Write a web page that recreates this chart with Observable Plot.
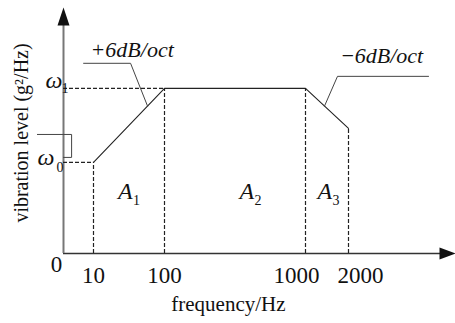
<!DOCTYPE html>
<html><head><meta charset="utf-8">
<script src="https://cdn.jsdelivr.net/npm/d3@7"></script>
<script src="https://cdn.jsdelivr.net/npm/@observablehq/plot@0.6"></script>
<style>body{margin:0;background:#fff}</style>
</head><body><div id="chart"></div>
<script>
// Breakpoints of the vibration profile (frequency in Hz, level relative to ω1)
const freqs = [10, 100, 1000, 2000];
const levels = [0.552, 1, 1, 0.758];
// Tick labels on the frequency axis
const tickValues = [0, 10, 100, 1000, 2000];
const tickLabels = ["0", "10", "100", "1000", "2000"];
// Level labels on the vertical axis
const levelNames = ["ω", "ω"];
const levelSubs = ["0", "1"];
const levelValues = [0.552, 1];
// Area labels
const areaNames = ["A", "A", "A"];
const areaSubs = ["1", "2", "3"];
const areaFreqs = [41, 579, 1279];
const areaLevel = 0.333;
// Slope annotations
const slopeTexts = ["+6dB/oct", "\u22126dB/oct"];
const leaderUpF = [6.7, 57, 78.5];
const leaderUpV = [1.152, 1.152, 0.893];
const leaderDownF = [3870, 1744, 1442];
const leaderDownV = [1.073, 1.073, 0.893];
const bracketF = [-8.7, 2.7, 2.7, 0];
const bracketV = [0.721, 0.721, 0.582, 0.582];
// Axis extents
const xAxisEnd = 4500;
const yAxisTop = 1.49;
const xTitle = "frequency/Hz";
const yTitle = "vibration level (g\u00B2/Hz)";

const profile = freqs.map((f, i) => ({f, v: levels[i]}));
const zip = (F, V) => F.map((f, i) => ({f, v: V[i]}));
const ticks = tickValues.map((t, i) => ({t, label: tickLabels[i]}));

const upHead = {draw(ctx) { ctx.moveTo(0, 0); ctx.lineTo(6, 18); ctx.lineTo(-6, 18); ctx.closePath(); }};
const rightHead = {draw(ctx) { ctx.moveTo(0, 0); ctx.lineTo(-16, -6); ctx.lineTo(-16, 6); ctx.closePath(); }};

const font = "Liberation Serif, Times New Roman, serif";
const dash = "4,2";
const ital = {fontFamily: font, fontStyle: "italic", fill: "#111"};

const chart = Plot.plot({
  width: 455,
  height: 323,
  margin: 0,
  x: {type: "linear", domain: [0, 10, 100, 1000, 2000, 4500], range: [63, 93, 164, 305, 348, 455], axis: null},
  y: {domain: [0, 1.49], range: [253, 7], axis: null},
  style: {fontFamily: font, background: "white", color: "#111"},
  marks: [
    // axes
    Plot.ruleY([0], {x1: 0, x2: xAxisEnd * 0.95, stroke: "#333", strokeWidth: 1.5}),
    Plot.ruleX([0], {y1: 0, y2: yAxisTop * 0.95, stroke: "#777", strokeWidth: 2}),
    Plot.dot([{f: 0, v: yAxisTop}], {x: "f", y: "v", symbol: upHead, fill: "#111", stroke: "none"}),
    Plot.dot([{f: xAxisEnd, v: 0}], {x: "f", y: "v", symbol: rightHead, fill: "#111", stroke: "none"}),
    // dashed guides
    Plot.ruleX(profile, {x: "f", y1: 0, y2: "v", stroke: "#222", strokeWidth: 1.2, strokeDasharray: dash}),
    Plot.ruleY(profile.slice(0, 2), {y: "v", x1: 0, x2: "f", stroke: "#222", strokeWidth: 1.2, strokeDasharray: dash}),
    // profile
    Plot.line(profile, {x: "f", y: "v", stroke: "#222", strokeWidth: 1.1}),
    // leaders & bracket
    Plot.line(zip(leaderUpF, leaderUpV), {x: "f", y: "v", stroke: "#444", strokeWidth: 1}),
    Plot.line(zip(leaderDownF, leaderDownV), {x: "f", y: "v", stroke: "#444", strokeWidth: 1}),
    Plot.line(zip(bracketF, bracketV), {x: "f", y: "v", stroke: "#444", strokeWidth: 1}),
    // slope texts
    Plot.text([{f: 9, v: 1.188, s: slopeTexts[0]}], {x: "f", y: "v", text: "s", textAnchor: "start", lineAnchor: "bottom", fontSize: 22, ...ital}),
    Plot.text([{f: 1800, v: 1.152, s: slopeTexts[1]}], {x: "f", y: "v", text: "s", textAnchor: "start", lineAnchor: "bottom", fontSize: 22, ...ital}),
    // level labels
    Plot.text([{v: levelValues[0], s: levelNames[0]}], {x: 0, y: "v", text: "s", textAnchor: "start", lineAnchor: "bottom", dx: -26, dy: 3, fontSize: 24, ...ital}),
    Plot.text([{v: levelValues[1], s: levelNames[1]}], {x: 0, y: "v", text: "s", textAnchor: "start", lineAnchor: "bottom", dx: -18, dy: 0, fontSize: 24, ...ital}),
    Plot.text([{v: levelValues[0], s: levelSubs[0]}], {x: 0, y: "v", text: "s", textAnchor: "start", lineAnchor: "bottom", dx: -7, dy: 10, fontSize: 14, fill: "#111"}),
    Plot.text([{v: levelValues[1], s: levelSubs[1]}], {x: 0, y: "v", text: "s", textAnchor: "start", lineAnchor: "bottom", dx: -2, dy: 5, fontSize: 14, fill: "#111"}),
    // area labels
    Plot.text(areaFreqs.map((f, i) => ({f, s: areaNames[i]})), {x: "f", y: areaLevel, text: "s", textAnchor: "start", lineAnchor: "bottom", fontSize: 24, ...ital}),
    Plot.text(areaFreqs.map((f, i) => ({f, s: areaSubs[i]})), {x: "f", y: areaLevel, text: "s", textAnchor: "start", lineAnchor: "bottom", dx: 15, dy: 6, fontSize: 14, fill: "#111"}),
    // tick labels
    Plot.text(ticks.slice(0, 1), {x: "t", y: 0, text: "label", textAnchor: "middle", lineAnchor: "bottom", dx: -7, dy: 18, fontSize: 23, fill: "#111"}),
    Plot.text(ticks.slice(1, 3), {x: "t", y: 0, text: "label", textAnchor: "middle", lineAnchor: "bottom", dy: 29, fontSize: 23, fill: "#111"}),
    Plot.text(ticks.slice(3, 4), {x: "t", y: 0, text: "label", textAnchor: "middle", lineAnchor: "bottom", dx: -9, dy: 29, fontSize: 23, fill: "#111"}),
    Plot.text(ticks.slice(4, 5), {x: "t", y: 0, text: "label", textAnchor: "middle", lineAnchor: "bottom", dx: 12, dy: 29, fontSize: 23, fill: "#111"}),
    // titles
    Plot.text([xTitle], {x: 508, y: 0, text: d => d, textAnchor: "middle", lineAnchor: "bottom", dy: 57, fontSize: 21, fill: "#111"}),
    Plot.text([yTitle], {x: -12, y: 0.73, text: d => d, textAnchor: "middle", lineAnchor: "bottom", rotate: -90, fontSize: 20, fill: "#111"})
  ]
});
document.getElementById("chart").appendChild(chart);
</script>
</body></html>
